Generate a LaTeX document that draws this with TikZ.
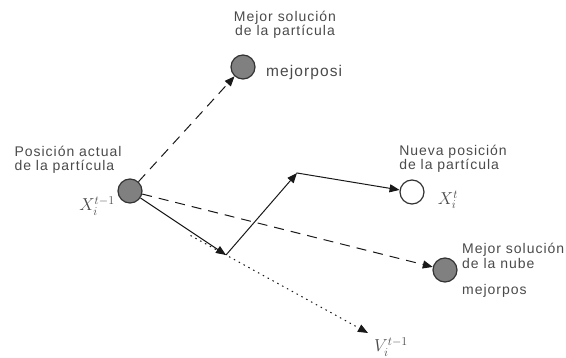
\documentclass[tikz,border=0pt]{standalone}
\usepackage{fontspec}
\setmainfont[LetterSpace=7]{Liberation Sans}
\usetikzlibrary{arrows.meta,calc}
\definecolor{txtgray}{HTML}{4A4A4A}
\definecolor{partfill}{HTML}{808080}
\tikzset{
  part/.style={circle,draw=black!80,line width=1.2pt,minimum size=24pt,inner sep=0pt,fill=partfill},
  newpart/.style={part,fill=white},
  lbl/.style={text=txtgray,font=\fontsize{14}{14.5}\selectfont,inner sep=0pt},
  var/.style={lbl,font=\fontsize{17}{18}\selectfont},
  vec/.style={line width=1pt,draw=black!90,-{Triangle[length=10pt,width=8pt]}},
  dashvec/.style={vec,dash pattern=on 10pt off 7pt},
  dotvec/.style={vec,dash pattern=on 1.5pt off 4pt},
}
\begin{document}
\begin{tikzpicture}[x=1pt,y=-1pt]
\useasboundingbox (0,0) rectangle (566,358);

\node[part] (cur) at (130,191) {};
\node[part] (pbest) at (243,67) {};
\node[newpart] (newpos) at (412,192) {};
\node[part] (gbest) at (445,270) {};
\coordinate (mid) at (226,255);
\coordinate (corner) at (297,173);
\coordinate (vend) at (368,333);

\draw[dashvec] (cur) -- (pbest);
\draw[dashvec] (cur) -- (gbest);
\draw[dotvec] ($(mid)!-0.25!(vend)$) -- (vend);
\draw[vec] (cur) -- (mid);
\draw[vec] (mid) -- (corner);
\draw[vec,shorten <=-0.5pt] (corner) -- (newpos);

\node[lbl,align=center] (pbesttxt) at (285,25) {Mejor solución\\de la partícula};
\node[lbl,anchor=west,font=\fontsize{15.5}{16}\selectfont] (pbestname) at (266,72) {mejorposi};
\node[lbl,align=left] (curtxt) at (68,160) {Posición actual\\de la partícula};
\node[var] (curvar) at (97,206) {$X_i^{t-1}$};
\node[lbl,align=left] (newtxt) at (453,159) {Nueva posición\\de la partícula};
\node[var] (newvar) at (448,200) {$X_i^t$};
\node[lbl,align=left,anchor=west] (gbesttxt) at (462,256) {Mejor solución\\de la nube};
\node[lbl,anchor=west] (gbestname) at (462,291) {mejorpos};
\node[var] (vvar) at (391,347) {$V_i^{t-1}$};
\end{tikzpicture}
\end{document}
